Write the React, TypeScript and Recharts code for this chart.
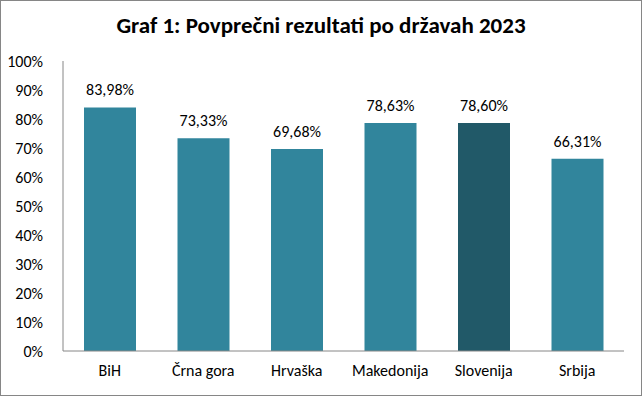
import { BarChart, Bar, XAxis, YAxis, Cell, LabelList } from 'recharts';

const countries = ['BiH', 'Črna gora', 'Hrvaška', 'Makedonija', 'Slovenija', 'Srbija'];
const scores = [83.98, 73.33, 69.68, 78.63, 78.6, 66.31];
const yTicks = [0, 10, 20, 30, 40, 50, 60, 70, 80, 90, 100];

const data = countries.map((name, i) => ({ name, value: scores[i] }));

const font = 'Carlito, Lato, "Open Sans", sans-serif';

export default function App() {
  return (
    <div
      style={{
        position: 'absolute',
        left: 0,
        top: 0,
        width: 642,
        height: 396,
        border: '1px solid #868686',
        boxSizing: 'border-box',
        background: '#fff',
        fontFamily: font,
      }}
    >
      <div
        style={{
          position: 'absolute',
          top: 10,
          left: 0,
          width: 640,
          textAlign: 'center',
          fontSize: 23,
          fontWeight: 'bold',
          color: '#000',
        }}
      >
        Graf 1: Povprečni rezultati po državah 2023
      </div>
      <BarChart
        width={640}
        height={394}
        data={data}
        margin={{ top: 60, right: 17, bottom: 14, left: 0 }}
        barCategoryGap="22%"
      >
        <XAxis
          dataKey="name"
          axisLine={{ stroke: '#868686' }}
          tickLine={false}
          tick={{ fill: '#000', fontSize: 16, fontFamily: font }}
          tickMargin={8}
          height={30}
        />
        <YAxis
          domain={[0, 100]}
          ticks={yTicks}
          interval={0}
          width={62}
          axisLine={{ stroke: '#868686' }}
          tickLine={false}
          tick={{ fill: '#000', fontSize: 16, fontFamily: font }}
          tickMargin={14}
          tickFormatter={(t) => `${t}%`}
        />
        <Bar dataKey="value" isAnimationActive={false} barSize={52}>
          {data.map((d) => (
            <Cell key={d.name} fill={d.name === 'Slovenija' ? '#215968' : '#31859C'} />
          ))}
          <LabelList
            dataKey="value"
            position="top"
            offset={12}
            style={{ fill: '#000', fontSize: 16, fontFamily: font }}
            formatter={(v: any) => `${Number(v).toFixed(2).replace('.', ',')}%`}
          />
        </Bar>
      </BarChart>
    </div>
  );
}
